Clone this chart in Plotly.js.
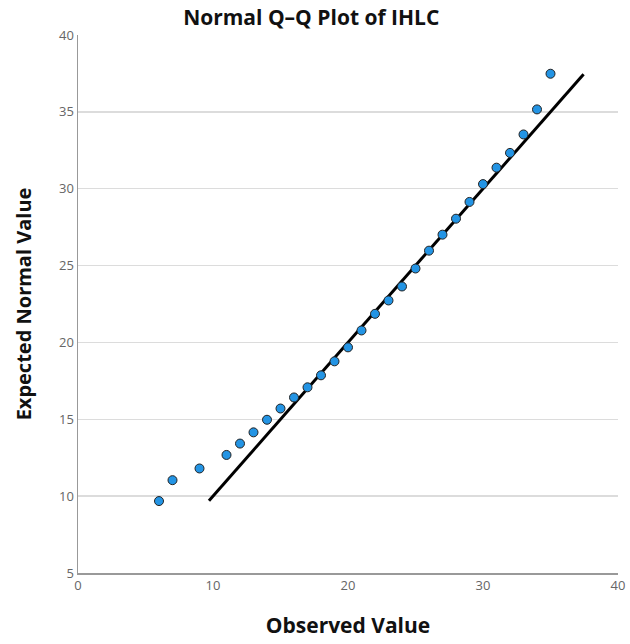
<!DOCTYPE html>
<html>
<head>
<meta charset="utf-8">
<script src="https://cdn.plot.ly/plotly-3.0.1.min.js"></script>
<style>html,body{margin:0;padding:0;background:#fff;}#chart{width:630px;height:644px;}</style>
</head>
<body>
<div id="chart"></div>
<script>
const observed = [6, 7, 9, 11, 12, 13, 14, 15, 16, 17, 18, 19, 20, 21, 22, 23, 24, 25, 26, 27, 28, 29, 30, 31, 32, 33, 34, 35];
const expected = [9.68, 11.04, 11.8, 12.68, 13.42, 14.15, 14.97, 15.7, 16.42, 17.08, 17.86, 18.77, 19.68, 20.78, 21.86, 22.73, 23.64, 24.81, 25.97, 27.01, 28.05, 29.14, 30.3, 31.37, 32.33, 33.53, 35.16, 37.48];
const refLine = [9.7, 37.45];
const xTicks = [0, 10, 20, 30, 40];
const yTicks = [5, 10, 15, 20, 25, 30, 35, 40];

const data = [
  {x: refLine, y: refLine, type: 'scatter', mode: 'lines',
   line: {color: '#000', width: 3}, hoverinfo: 'skip', showlegend: false},
  {x: observed, y: expected, type: 'scatter', mode: 'markers',
   marker: {size: 9, color: '#2394e4', line: {color: '#222', width: 1}}, showlegend: false}
];
const layout = {
  width: 630, height: 644,
  margin: {l: 78, r: 12, t: 35, b: 71},
  paper_bgcolor: '#fff', plot_bgcolor: '#fff',
  font: {family: 'Open Sans, DejaVu Sans, sans-serif', color: '#555'},
  title: {text: 'Normal Q\u2013Q Plot of IHLC', x: 0.494, xanchor: 'center', y: 0.972, yanchor: 'middle',
          font: {size: 21, color: '#111', family: 'Open Sans, sans-serif', weight: 'bold'}},
  xaxis: {range: [0, 40], tickvals: xTicks, showgrid: false, zeroline: false,
          showline: true, linecolor: '#999', linewidth: 1.5, ticks: '',
          tickfont: {size: 13, color: '#666'},
          title: {text: 'Observed Value', standoff: 25, font: {size: 21, color: '#111', weight: 'bold'}}},
  yaxis: {range: [5, 40], tickvals: yTicks, showgrid: true, gridcolor: '#dcdcdc', gridwidth: 1.5,
          zeroline: false, showline: true, linecolor: '#999', linewidth: 1.5, ticks: '',
          tickfont: {size: 13, color: '#666'},
          title: {text: 'Expected Normal Value', standoff: 22, font: {size: 20, color: '#111', weight: 'bold'}}}
};
Plotly.newPlot('chart', data, layout, {displayModeBar: false, staticPlot: true});
</script>
</body>
</html>
